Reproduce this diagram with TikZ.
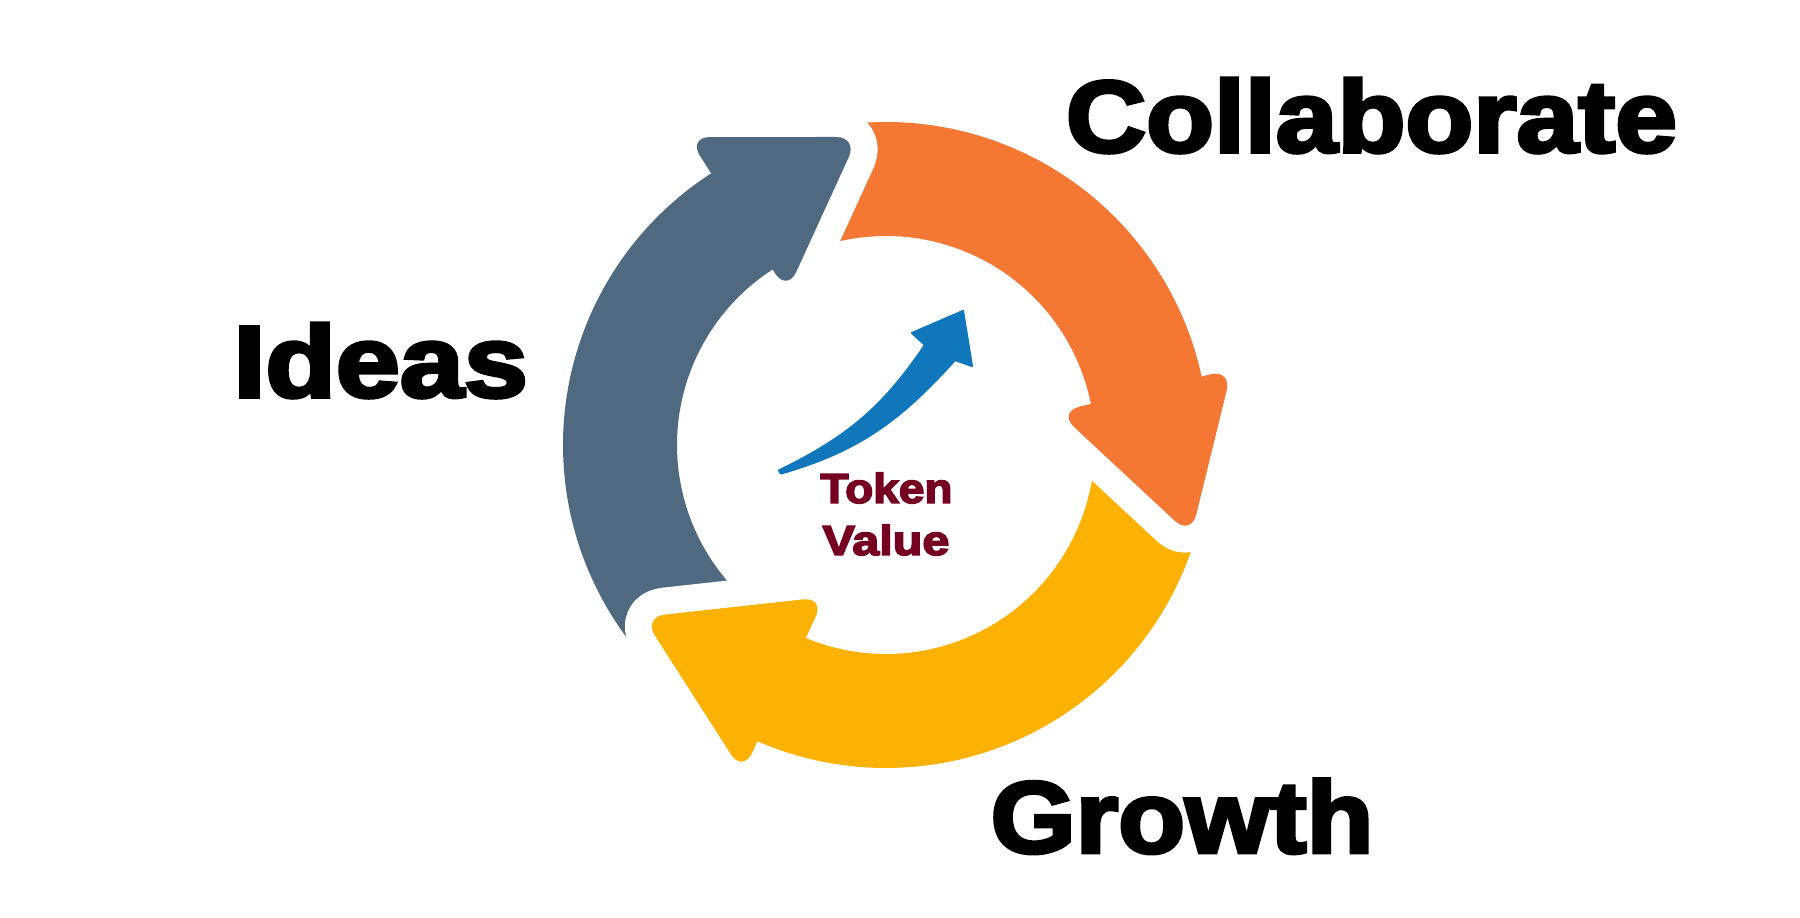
\documentclass[tikz,border=0pt]{standalone}
\usepackage{fontspec}
\usetikzlibrary{calc}
\newfontfamily\heavyfont[FakeBold=3.5]{Liberation Sans Bold}
\definecolor{ringgray}{RGB}{79,106,128}
\definecolor{ringorange}{RGB}{244,120,52}
\definecolor{ringyellow}{RGB}{253,178,2}
\definecolor{riseblue}{RGB}{17,119,188}
\definecolor{tokenred}{RGB}{117,0,33}
\begin{document}
\begin{tikzpicture}[x=1cm,y=1cm,
  headgap/.style={draw=white, line width=0.54cm, rounded corners=0.22cm, line cap=butt, line join=round},
  headfill/.style={rounded corners=0.22cm},
  word/.style={font=\heavyfont\fontsize{29}{35}\selectfont, anchor=base, inner sep=0pt, text=black},
  tokenword/.style={font=\heavyfont\fontsize{11.9}{14}\selectfont, anchor=base, inner sep=0pt, text=tokenred}]
\useasboundingbox (0,0) rectangle (18,9.18);
\fill[white] (0,0) rectangle (18,9.18);
\def\Ro{3.23}
\def\Ri{2.09}
\coordinate (C) at (8.86,4.73);
% arrow heads: outer barb, tip, inner barb
\coordinate (gOb) at ($(C)+(122.74:3.661)$);
\coordinate (gT)  at ($(C)+(95.2:3.093)$);
\coordinate (gIb) at ($(C)+(122.9:1.822)$);
\coordinate (oOb) at ($(C)+(12.39:3.542)$);
\coordinate (oT)  at ($(C)+(-16.6:3.183)$);
\coordinate (oIb) at ($(C)+(10.86:1.751)$);
\coordinate (yOb) at ($(C)+(246.4:3.578)$);
\coordinate (yT)  at ($(C)+(215.3:2.977)$);
\coordinate (yIb) at ($(C)+(248.1:1.638)$);
% ring bodies, tails cut along the edges of the preceding head
\fill[ringgray] ($(C)+(121:\Ro)$) arc[start angle=121,end angle=235.6,radius=\Ro]
  -- (yT) -- ($(C)+(230:\Ri)$) arc[start angle=230,end angle=121,radius=\Ri] -- cycle;
\fill[ringorange] ($(C)+(9.5:\Ro)$) arc[start angle=9.5,end angle=107.5,radius=\Ro]
  -- (gT) -- ($(C)+(112.7:\Ri)$) arc[start angle=112.7,end angle=9.5,radius=\Ri] -- cycle;
\fill[ringyellow] ($(C)+(245.5:\Ro)$) arc[start angle=245.5,end angle=343.4,radius=\Ro]
  -- (oT) -- ($(C)+(359.6:\Ri)$) arc[start angle=359.6,end angle=245.5,radius=\Ri] -- cycle;
% white gaps around the heads
\draw[headgap] ($(gOb)!0.15!(gT)$) -- (gT) -- ($(gT)!0.8!(gIb)$);
\draw[headgap] ($(oOb)!0.15!(oT)$) -- (oT) -- ($(oT)!0.8!(oIb)$);
\draw[headgap] ($(yOb)!0.15!(yT)$) -- (yT) -- ($(yT)!0.8!(yIb)$);
% heads
\fill[ringgray, headfill] (gOb) -- (gT) -- (gIb) -- cycle;
\fill[ringorange, headfill] (oOb) -- (oT) -- (oIb) -- cycle;
\fill[ringyellow, headfill] (yOb) -- (yT) -- (yIb) -- cycle;
% rising arrow in the middle
\filldraw[riseblue, line width=0.6pt, line join=round]
  (7.79,4.475) to[out=26,in=236] (9.25,5.73) -- (9.12,5.85) -- (9.63,6.07)
  -- (9.72,5.52) -- (9.55,5.58) to[out=228,in=16] (7.81,4.445) -- cycle;
% labels
\node[word] (collab) at (13.715,7.66) {\scalebox{1.09}[1]{Collaborate}};
\node[word] (ideas) at (3.807,5.21) {\scalebox{1.13}[1]{Ideas}};
\node[word] (growth) at (11.82,0.653) {\scalebox{1.073}[1]{Growth}};
\node[tokenword] (token) at (8.865,4.15) {\scalebox{1.10}[1]{Token}};
\node[tokenword] (value) at (8.86,3.63) {\scalebox{1.16}[1]{Value}};
\end{tikzpicture}
\end{document}
